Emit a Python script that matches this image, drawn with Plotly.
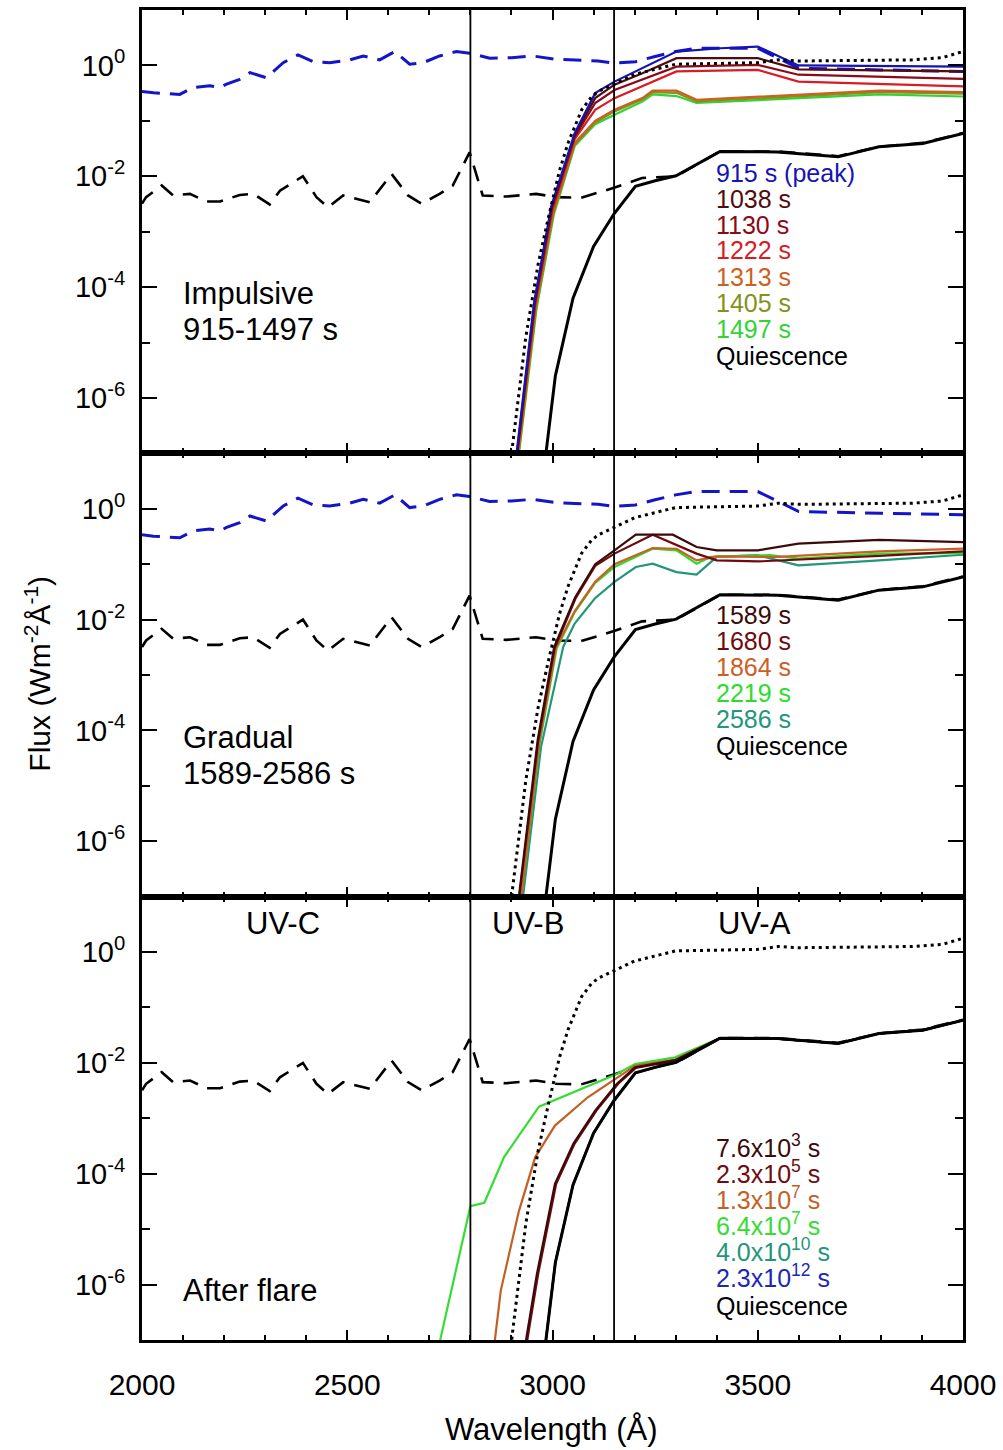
import plotly.graph_objects as go
from plotly.subplots import make_subplots

FONT = "Liberation Sans, Arial, Helvetica, sans-serif"

# ---------------- data (wavelength in Angstrom, flux in W m^-2 A^-1) ----------------
# Quiescent top-of-atmosphere spectrum (black dashed)
Q_TOA_WL = [2000, 2010, 2048, 2076, 2117, 2157, 2190, 2238, 2271, 2311, 2336, 2392, 2425, 2453,
            2490, 2555, 2608, 2648, 2681, 2725, 2757, 2798, 2830, 2887, 2960, 3009, 3070, 3150,
            3218, 3301, 3408, 3548, 3696, 3795, 3902, 4000]
Q_TOA_FLUX = [3.2e-3, 4.2e-3, 6.8e-3, 4.5e-3, 4.8e-3, 3.5e-3, 3.5e-3, 4.6e-3, 4.8e-3, 3.1e-3,
              5.5e-3, 1.0e-2, 4.2e-3, 2.75e-3, 4.5e-3, 3.4e-3, 1.1e-2, 4.5e-3, 3.2e-3, 4.8e-3,
              6.8e-3, 2.7e-2, 4.5e-3, 4.3e-3, 4.8e-3, 4.2e-3, 4.1e-3, 6.2e-3, 9.3e-3, 1.0e-2,
              2.8e-2, 2.8e-2, 2.3e-2, 3.4e-2, 4.0e-2, 6.0e-2]

# Flare peak top-of-atmosphere spectrum (blue dashed)
P_TOA_WL = [2000, 2028, 2092, 2125, 2165, 2190, 2206, 2238, 2263, 2279, 2303, 2344, 2380, 2417,
            2457, 2506, 2539, 2579, 2616, 2652, 2685, 2725, 2766, 2798, 2847, 2900, 2952, 3009,
            3054, 3111, 3150, 3202, 3250, 3300, 3350, 3500, 3550, 3600, 3800, 4000]
P_TOA_FLUX = [0.34, 0.32, 0.30, 0.40, 0.43, 0.40, 0.46, 0.56, 0.74, 0.68, 0.60, 1.12, 1.55, 1.17,
              1.12, 1.26, 1.48, 1.26, 1.78, 1.05, 1.12, 1.48, 1.78, 1.66, 1.35, 1.38, 1.48, 1.29,
              1.26, 1.20, 1.10, 1.17, 1.45, 1.78, 2.04, 2.04, 1.35, 0.89, 0.83, 0.78]

# Reference surface spectrum (black dotted)
DOT_WL = [2895, 2902, 2935, 2965, 2990, 3005, 3017, 3038, 3053, 3071, 3095, 3112, 3150, 3200,
          3300, 3500, 3550, 3600, 3877, 3950, 4000]
DOT_FLUX = [3.2e-8, 1.26e-7, 1.26e-5, 2.6e-4, 1.8e-3, 5.6e-3, 1.26e-2, 4.0e-2, 7.6e-2, 0.158,
            0.27, 0.34, 0.46, 0.69, 1.05, 1.12, 1.26, 1.20, 1.26, 1.38, 1.78]

# Quiescent surface spectrum (black solid)
QS_WL = [2978, 2984, 3007, 3050, 3100, 3150, 3202, 3250, 3301, 3408, 3548, 3696, 3795, 3902, 4000]
QS_FLUX = [3.2e-8, 1.0e-7, 2.5e-6, 6.3e-5, 5.4e-4, 2.1e-3, 6.6e-3, 8.3e-3, 1.02e-2, 2.8e-2,
           2.75e-2, 2.24e-2, 3.4e-2, 3.9e-2, 5.9e-2]

# ---- Impulsive phase surface spectra ----
IMP_LABELS = ["915 s (peak)", "1038 s", "1130 s", "1222 s", "1313 s", "1405 s", "1497 s"]
IMP_COLORS = ["#1414b4", "#520c10", "#8c0a18", "#d81c24", "#cc5f24", "#84921a", "#34d234"]
IMP_WL = [
    [2905, 2914, 2955, 2997, 3054, 3104, 3151, 3219, 3302, 3409, 3500, 3599, 3800, 4000],
    [2906, 2915, 2956, 2998, 3054, 3104, 3151, 3219, 3302, 3500, 3599, 4000],
    [2907, 2916, 2957, 2999, 3054, 3104, 3151, 3219, 3302, 3500, 3599, 4000],
    [2907, 2916, 2958, 3000, 3054, 3104, 3151, 3219, 3302, 3500, 3599, 4000],
    [2909, 2918, 2959, 3001, 3054, 3104, 3151, 3219, 3244, 3302, 3351, 3599, 3796, 4000],
    [2910, 2919, 2960, 3002, 3054, 3104, 3151, 3219, 3244, 3302, 3351, 3599, 3796, 4000],
    [2911, 2920, 2961, 3003, 3054, 3104, 3151, 3219, 3244, 3302, 3351, 3599, 3796, 4000],
]
IMP_FLUX = [
    [2.5e-8, 1.26e-7, 5.2e-5, 2.9e-3, 6.0e-2, 0.316, 0.51, 0.89, 1.78, 2.04, 2.19, 1.0, 0.98, 0.95],
    [2.5e-8, 1.26e-7, 5.2e-5, 2.8e-3, 5.6e-2, 0.257, 0.45, 0.72, 1.35, 1.35, 0.85, 0.78],
    [2.5e-8, 1.26e-7, 5.0e-5, 2.7e-3, 5.1e-2, 0.21, 0.36, 0.55, 0.95, 1.02, 0.68, 0.57],
    [2.5e-8, 1.26e-7, 4.8e-5, 2.5e-3, 4.7e-2, 0.158, 0.257, 0.42, 0.78, 0.83, 0.51, 0.42],
    [2.5e-8, 1.26e-7, 4.5e-5, 2.2e-3, 4.0e-2, 0.10, 0.158, 0.257, 0.35, 0.35, 0.24, 0.30, 0.35, 0.33],
    [2.5e-8, 1.26e-7, 4.2e-5, 2.1e-3, 3.7e-2, 9.3e-2, 0.148, 0.245, 0.33, 0.32, 0.224, 0.28, 0.33, 0.31],
    [2.5e-8, 1.26e-7, 4.0e-5, 2.0e-3, 3.5e-2, 8.7e-2, 0.129, 0.224, 0.30, 0.28, 0.21, 0.257, 0.30, 0.275],
]

# ---- Gradual phase surface spectra ----
GRAD_LABELS = ["1589 s", "1680 s", "1864 s", "2219 s", "2586 s"]
GRAD_COLORS = ["#3c0a0a", "#700a0e", "#cc5f24", "#2cdc2c", "#23967a"]
GRAD_WL = [
    [2912, 2919, 2964, 3004, 3055, 3104, 3151, 3203, 3293, 3351, 3400, 3500, 3599, 3796, 4000],
    [2913, 2920, 2965, 3005, 3056, 3104, 3151, 3244, 3351, 3400, 3500, 3599, 3796, 4000],
    [2917, 2925, 2968, 3009, 3054, 3104, 3151, 3244, 3302, 3351, 3400, 3550, 3796, 4000],
    [2917, 2925, 2969, 3010, 3054, 3104, 3151, 3244, 3302, 3351, 3385, 3530, 3599, 3796, 4000],
    [2921, 2929, 2972, 3026, 3054, 3103, 3151, 3203, 3244, 3302, 3351, 3400, 3500, 3599, 3796, 4000],
]
GRAD_FLUX = [
    [2.5e-8, 1.12e-7, 6.8e-5, 3.2e-3, 2.5e-2, 0.10, 0.178, 0.34, 0.34, 0.204, 0.178, 0.178, 0.234, 0.275, 0.25],
    [2.5e-8, 1.12e-7, 6.3e-5, 3.0e-3, 2.4e-2, 9.3e-2, 0.155, 0.34, 0.155, 0.117, 0.112, 0.12, 0.141, 0.17],
    [2.5e-8, 1.12e-7, 6.3e-5, 3.2e-3, 1.41e-2, 4.8e-2, 0.10, 0.195, 0.19, 0.117, 0.138, 0.135, 0.17, 0.19],
    [2.5e-8, 1.12e-7, 6.0e-5, 3.0e-3, 1.35e-2, 4.6e-2, 8.9e-2, 0.19, 0.178, 0.102, 0.135, 0.145, 0.126, 0.155, 0.158],
    [2.5e-8, 1.12e-7, 5.0e-5, 3.2e-3, 8.5e-3, 2.4e-2, 4.8e-2, 8.9e-2, 0.102, 0.072, 0.065, 0.135, 0.145, 9.5e-2, 0.117, 0.148],
]

# ---- After-flare surface spectra ----
AFTER_LABELS = ["7.6x10<sup>3</sup> s", "2.3x10<sup>5</sup> s", "1.3x10<sup>7</sup> s",
                "6.4x10<sup>7</sup> s", "4.0x10<sup>10</sup> s", "2.3x10<sup>12</sup> s"]
AFTER_COLORS = ["#3c0a0a", "#6e0c10", "#c45f24", "#34dc34", "#23967a", "#1e28b4"]
AFTER_WL = [
    [2931, 2936, 2962, 3006, 3051, 3104, 3157, 3201, 3299, 3408, 3548, 3696, 3795, 3902, 4000],
    [2934, 2939, 2965, 3009, 3054, 3107, 3160, 3203, 3299, 3408, 3548, 3696, 3795, 3902, 4000],
    [2857, 2860, 2874, 2918, 2958, 3006, 3086, 3157, 3201, 3299, 3408, 3548, 3696, 3795, 3902, 4000],
    [2720, 2727, 2800, 2834, 2882, 2967, 3157, 3201, 3299, 3408, 3548, 3696, 3795, 3902, 4000],
    [2978, 2984, 3007, 3050, 3100, 3150, 3202, 3250, 3301, 3408, 3548, 3696, 3795, 3902, 4000],
    [2978, 2984, 3007, 3050, 3100, 3150, 3202, 3250, 3301, 3408, 3548, 3696, 3795, 3902, 4000],
]
AFTER_FLUX = [
    [2.5e-8, 1.05e-7, 1.55e-6, 6.6e-5, 3.5e-4, 1.38e-3, 4.2e-3, 8.3e-3, 1.12e-2, 2.8e-2, 2.75e-2, 2.24e-2, 3.4e-2, 3.9e-2, 5.9e-2],
    [2.5e-8, 1.05e-7, 1.55e-6, 6.6e-5, 3.5e-4, 1.38e-3, 4.2e-3, 8.1e-3, 1.1e-2, 2.8e-2, 2.75e-2, 2.24e-2, 3.4e-2, 3.9e-2, 5.9e-2],
    [2.5e-8, 1.05e-7, 7.8e-7, 2.1e-5, 2.0e-4, 7.4e-4, 2.4e-3, 5.5e-3, 8.9e-3, 1.15e-2, 2.8e-2, 2.75e-2, 2.24e-2, 3.4e-2, 3.9e-2, 5.9e-2],
    [2.5e-8, 1.05e-7, 2.6e-5, 3.0e-5, 2.0e-4, 1.62e-3, 6.3e-3, 9.5e-3, 1.26e-2, 2.8e-2, 2.75e-2, 2.24e-2, 3.4e-2, 3.9e-2, 5.9e-2],
    [3.2e-8, 1.0e-7, 2.5e-6, 6.3e-5, 5.4e-4, 2.1e-3, 6.6e-3, 8.3e-3, 1.02e-2, 2.8e-2, 2.75e-2, 2.24e-2, 3.4e-2, 3.9e-2, 5.9e-2],
    [3.2e-8, 1.0e-7, 2.5e-6, 6.3e-5, 5.4e-4, 2.1e-3, 6.6e-3, 8.3e-3, 1.02e-2, 2.8e-2, 2.75e-2, 2.24e-2, 3.4e-2, 3.9e-2, 5.9e-2],
]

X_TICKS = [2000, 2500, 3000, 3500, 4000]
X_MINOR = [2100, 2200, 2300, 2400, 2600, 2700, 2800, 2900, 3100, 3200, 3300, 3400, 3600, 3700, 3800, 3900]
Y_TICKS = [1, 1e-2, 1e-4, 1e-6]
Y_TICKTEXT = ["10<sup>0</sup>", "10<sup>-2</sup>", "10<sup>-4</sup>", "10<sup>-6</sup>"]
Y_MINOR = [10, 1e-1, 1e-3, 1e-5, 1e-7]
BAND_EDGES = [2800, 3150]

# ---------------- figure ----------------
W, H = 1003, 1450
ML, MR, MT, MB = 142, 39, 7, 110
PW, PH = W - ML - MR, H - MT - MB


def px_x(px):
    return (px - ML) / PW


def px_y(py):
    return (H - MB - py) / PH


fig = make_subplots(rows=3, cols=1, shared_xaxes=True, vertical_spacing=0)


def add(row, wl, fl, color, width=2.0, dash="solid"):
    fig.add_trace(go.Scatter(x=wl, y=fl, mode="lines",
                             line=dict(color=color, width=width, dash=dash),
                             showlegend=False, hoverinfo="skip"), row=row, col=1)


BLACK_DASH = "16px,10px"
BLUE_DASH = "18px,10px"
DOTTED = "3px,4px"

# row 1: impulsive
add(1, Q_TOA_WL, Q_TOA_FLUX, "black", 2.6, BLACK_DASH)
add(1, P_TOA_WL, P_TOA_FLUX, "#1414c8", 3, BLUE_DASH)
for wl, fl, c in reversed(list(zip(IMP_WL, IMP_FLUX, IMP_COLORS))):
    add(1, wl, fl, c, 2.2)
add(1, DOT_WL, DOT_FLUX, "black", 3, DOTTED)
add(1, QS_WL, QS_FLUX, "black", 3)

# row 2: gradual
add(2, Q_TOA_WL, Q_TOA_FLUX, "black", 2.6, BLACK_DASH)
add(2, P_TOA_WL, P_TOA_FLUX, "#1414c8", 3, BLUE_DASH)
for wl, fl, c in reversed(list(zip(GRAD_WL, GRAD_FLUX, GRAD_COLORS))):
    add(2, wl, fl, c, 2.2)
add(2, DOT_WL, DOT_FLUX, "black", 3, DOTTED)
add(2, QS_WL, QS_FLUX, "black", 3)

# row 3: after flare
add(3, Q_TOA_WL, Q_TOA_FLUX, "black", 2.6, BLACK_DASH)
for wl, fl, c in reversed(list(zip(AFTER_WL, AFTER_FLUX, AFTER_COLORS))):
    add(3, wl, fl, c, 2.2)
add(3, DOT_WL, DOT_FLUX, "black", 3, DOTTED)
add(3, QS_WL, QS_FLUX, "black", 3)

for r in (1, 2, 3):
    fig.update_xaxes(range=[2000, 4000], showline=True, linewidth=3, linecolor="black",
                     mirror="ticks", ticks="inside", ticklen=10, tickwidth=2, tickcolor="black",
                     tickmode="array", tickvals=X_TICKS, showgrid=False, zeroline=False,
                     minor=dict(ticks="inside", ticklen=5, tickwidth=2, tickcolor="black",
                                tickmode="array", tickvals=X_MINOR, showgrid=False),
                     tickfont=dict(family=FONT, size=30, color="black"),
                     ticklabelstandoff=16, row=r, col=1)
    fig.update_yaxes(type="log", range=[-7, 1], showline=True, linewidth=3, linecolor="black",
                     mirror="ticks", ticks="inside", ticklen=15, tickwidth=2, tickcolor="black",
                     tickmode="array", tickvals=Y_TICKS, ticktext=Y_TICKTEXT,
                     showgrid=False, zeroline=False,
                     minor=dict(ticks="inside", ticklen=8, tickwidth=2, tickcolor="black",
                                tickmode="array", tickvals=Y_MINOR, showgrid=False),
                     tickfont=dict(family=FONT, size=29, color="black"),
                     ticklabelstandoff=8, row=r, col=1)

for xe in BAND_EDGES:
    fig.add_shape(type="line", xref="x", yref="paper", x0=xe, x1=xe, y0=0, y1=1,
                  line=dict(color="black", width=1.8))

ann = []


def text(x_px, y_px, s, size, color="black", xanchor="left", angle=0):
    ann.append(dict(x=px_x(x_px), y=px_y(y_px), xref="paper", yref="paper", text=s,
                    showarrow=False, xanchor=xanchor, yanchor="middle", textangle=angle,
                    font=dict(family=FONT, size=size, color=color)))


LEG_SIZE = 25
top_y = [170, 196, 222, 248, 275, 301, 327]
for s, c, y in zip(IMP_LABELS, IMP_COLORS, top_y):
    text(715, y, s, LEG_SIZE, c)
text(715, 354, "Quiescence", LEG_SIZE)

mid_y = [613, 639, 665, 692, 718]
for s, c, y in zip(GRAD_LABELS, GRAD_COLORS, mid_y):
    text(715, y, s, LEG_SIZE, c)
text(715, 745, "Quiescence", LEG_SIZE)

bot_y = [1146, 1172, 1198, 1224, 1250, 1276]
for s, c, y in zip(AFTER_LABELS, AFTER_COLORS, bot_y):
    text(715, y, s, LEG_SIZE, c)
text(715, 1306, "Quiescence", LEG_SIZE)

PANEL_SIZE = 31
text(181, 291, "Impulsive", PANEL_SIZE)
text(181, 327, "915-1497 s", PANEL_SIZE)
text(181, 736, "Gradual", PANEL_SIZE)
text(181, 772, "1589-2586 s", PANEL_SIZE)
text(181, 1290, "After flare", PANEL_SIZE)
text(283, 923, "UV-C", PANEL_SIZE, xanchor="center")
text(528, 923, "UV-B", PANEL_SIZE, xanchor="center")
text(755, 923, "UV-A", PANEL_SIZE, xanchor="center")

text(552, 1430, "Wavelength (Å)", 31, xanchor="center")
text(37, 672, "Flux (Wm<sup>-2</sup>Å<sup>-1</sup>)", 30, xanchor="center", angle=-90)

fig.update_layout(width=W, height=H, margin=dict(l=ML, r=MR, t=MT, b=MB, pad=0),
                  plot_bgcolor="white", paper_bgcolor="white", showlegend=False,
                  annotations=ann, font=dict(family=FONT, color="black"))

fig.write_html("out.html")
